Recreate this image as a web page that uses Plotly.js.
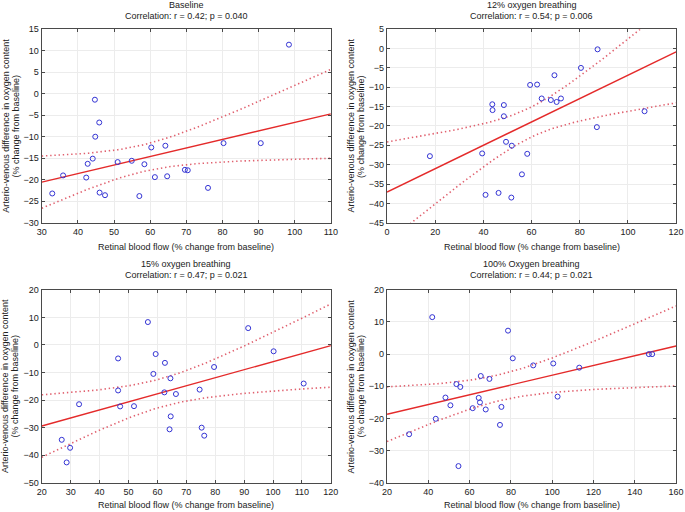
<!DOCTYPE html>
<html>
<head>
<meta charset="utf-8">
<script src="https://cdn.plot.ly/plotly-3.0.1.min.js"></script>
<style>
  html, body { margin: 0; padding: 0; background: #fff; }
  #chart { width: 685px; height: 512px; }
</style>
</head>
<body>
<div id="chart"></div>
<script>
// values (% change from baseline)
const baselineFlow = [32.9, 35.9, 42.3, 42.7, 44.1, 44.7, 44.8, 45.9, 46.0, 47.5, 51.0, 54.9,
  57.0, 58.4, 60.3, 61.3, 64.2, 64.7, 69.6, 70.4, 76.0, 80.3, 90.6, 98.4];
const baselineAvdo = [-23.2, -19.0, -19.5, -16.3, -15.1, -1.4, -10.0, -6.7, -23.0, -23.6, -15.9, -15.6,
  -23.8, -16.4, -12.5, -19.4, -12.1, -19.2, -17.7, -17.8, -21.9, -11.5, -11.5, 11.4];

const o2_12Flow = [17.8, 39.5, 40.9, 43.7, 43.8, 46.3, 48.5, 48.5, 49.4, 51.6, 51.8, 56.0,
  58.2, 59.4, 62.3, 64.2, 68.0, 69.5, 70.4, 72.2, 80.5, 87.4, 87.1, 106.9];
const o2_12Avdo = [-27.8, -27.1, -37.8, -14.4, -15.9, -37.3, -14.6, -17.5, -24.1, -38.5, -25.1, -32.5,
  -27.2, -9.4, -9.3, -12.9, -13.3, -6.9, -13.8, -12.9, -5.0, -0.2, -20.3, -16.2];

const o2_15Flow = [26.9, 28.6, 29.8, 32.9, 46.4, 46.4, 47.1, 51.9, 56.7, 58.6, 59.4, 62.4,
  62.6, 64.5, 64.6, 64.2, 66.4, 74.6, 75.3, 76.2, 79.6, 91.4, 100.2, 110.6];
const o2_15Avdo = [-34.4, -42.6, -37.3, -21.5, -4.9, -16.5, -22.3, -22.2, 8.3, -10.5, -3.3, -17.2,
  -6.5, -12.1, -25.9, -30.6, -17.8, -16.2, -30.0, -32.9, -8.0, 6.1, -2.3, -14.0];

const o2_100Flow = [30.7, 41.9, 43.6, 48.3, 50.7, 53.6, 54.6, 55.5, 61.5, 64.4, 65.0, 65.4,
  67.8, 69.6, 74.7, 75.4, 78.6, 80.9, 90.8, 100.5, 102.6, 113.1, 146.8, 148.4];
const o2_100Avdo = [-24.9, 11.5, -20.1, -13.5, -15.9, -9.3, -34.8, -10.2, -16.8, -13.6, -15.0, -6.8,
  -17.2, -7.7, -22.0, -16.4, 7.3, -1.3, -3.5, -2.9, -13.2, -4.2, 0.0, 0.0];

const panelTitles = ['Baseline', '12% oxygen breathing', '15% oxygen breathing', '100% Oxygen breathing'];
const corrLabels = ['Correlation: r = 0.42; p = 0.040', 'Correlation: r = 0.54; p = 0.006',
  'Correlation: r = 0.47; p = 0.021', 'Correlation: r = 0.44; p = 0.021'];
const xRanges = [[30, 110], [0, 120], [20, 120], [20, 160]];
const yRanges = [[-30, 15], [-45, 5], [-50, 20], [-40, 20]];
const xSteps = [10, 20, 10, 20];
const ySteps = [5, 5, 10, 10];

const xTitle = 'Retinal blood flow (% change from baseline)';
const yTitleLines = ['Arterio-venous difference in oxygen content', '(% change from baseline)'];

// t(0.975) for small df
const tCrit = {20: 2.086, 21: 2.080, 22: 2.074, 23: 2.069, 24: 2.064, 25: 2.060, 26: 2.056, 27: 2.052, 28: 2.048};

const panels = [
  [baselineFlow, baselineAvdo],
  [o2_12Flow, o2_12Avdo],
  [o2_15Flow, o2_15Avdo],
  [o2_100Flow, o2_100Avdo]
];

// plot area boxes in paper fractions
const xDomains = [[0.061, 0.483], [0.565, 0.987], [0.061, 0.483], [0.565, 0.987]];
const yDomains = [[0.565, 0.943], [0.565, 0.943], [0.057, 0.434], [0.057, 0.434]];
// pixel positions of the label lines
const titleY = [[4.7, 15.5], [4.7, 15.5], [263.5, 275.3], [263.5, 275.3]];
const xTitleY = [246.7, 246.7, 505.3, 505.3];
const yTitleX = [[5.8, 15.5], [350.5, 361], [5.7, 15.2], [351.3, 361.3]];

function fit(xs, ys) {
  const n = xs.length;
  const mx = xs.reduce((a, b) => a + b, 0) / n;
  const my = ys.reduce((a, b) => a + b, 0) / n;
  let sxx = 0, sxy = 0, syy = 0;
  xs.forEach((x, i) => {
    sxx += (x - mx) ** 2;
    sxy += (x - mx) * (ys[i] - my);
    syy += (ys[i] - my) ** 2;
  });
  const b = sxy / sxx;
  const a = my - b * mx;
  const s = Math.sqrt((syy - b * sxy) / (n - 2));
  return { a, b, s, n, mx, sxx, t: tCrit[n - 2] || 2.07 };
}

const traces = [];
const layout = {
  width: 685, height: 512,
  margin: { l: 0, r: 0, t: 0, b: 0 },
  paper_bgcolor: '#fff', plot_bgcolor: '#fff',
  showlegend: false,
  font: { family: 'Liberation Sans, Arial, sans-serif', size: 9, color: '#222' },
  annotations: []
};

const py = p => 1 - p / 512;
const px = p => p / 685;

panels.forEach(([xs, ys], i) => {
  const k = i === 0 ? '' : String(i + 1);
  const xa = 'x' + k, ya = 'y' + k;
  const f = fit(xs, ys);
  const [x0, x1] = xRanges[i];

  const gx = [], gy = [], up = [], lo = [];
  for (let j = 0; j <= 80; j++) {
    const x = x0 + (x1 - x0) * j / 80;
    const yhat = f.a + f.b * x;
    const half = f.t * f.s * Math.sqrt(1 / f.n + (x - f.mx) ** 2 / f.sxx);
    gx.push(x); gy.push(yhat); up.push(yhat + half); lo.push(yhat - half);
  }

  const band = { color: '#e0606e', width: 1.6, dash: '1.4px,2.8px' };
  traces.push({ x: gx, y: up, xaxis: xa, yaxis: ya, mode: 'lines', type: 'scatter', line: band, hoverinfo: 'skip' });
  traces.push({ x: gx, y: lo, xaxis: xa, yaxis: ya, mode: 'lines', type: 'scatter', line: band, hoverinfo: 'skip' });
  traces.push({ x: gx, y: gy, xaxis: xa, yaxis: ya, mode: 'lines', type: 'scatter',
    line: { color: '#e42a2a', width: 1.4 }, hoverinfo: 'skip' });
  traces.push({ x: xs, y: ys, xaxis: xa, yaxis: ya, mode: 'markers', type: 'scatter', cliponaxis: false,
    marker: { symbol: 'circle-open', size: 5, color: '#3434d4', line: { width: 1 } } });

  const axCommon = {
    showline: true, linecolor: '#4a4a4a', linewidth: 1.2, mirror: 'ticks',
    ticks: 'inside', ticklen: 3, tickcolor: '#4a4a4a', tickwidth: 1,
    showgrid: true, gridcolor: '#ececec', gridwidth: 1,
    zeroline: false, ticklabeloverflow: 'allow', tickfont: { size: 9, color: '#222' }
  };
  layout['xaxis' + k] = Object.assign({}, axCommon, {
    domain: xDomains[i], anchor: ya, range: xRanges[i], dtick: xSteps[i], tick0: 0
  });
  layout['yaxis' + k] = Object.assign({}, axCommon, {
    domain: yDomains[i], anchor: xa, range: yRanges[i], dtick: ySteps[i], tick0: 0
  });

  const cx = (xDomains[i][0] + xDomains[i][1]) / 2;
  const cy = (yDomains[i][0] + yDomains[i][1]) / 2;
  const txt = (text, x, y, extra) => Object.assign({
    text, xref: 'paper', yref: 'paper', x, y, showarrow: false,
    xanchor: 'center', yanchor: 'middle', font: { size: 9 }
  }, extra || {});
  layout.annotations.push(
    txt(panelTitles[i], cx, py(titleY[i][0])),
    txt(corrLabels[i], cx, py(titleY[i][1])),
    txt(xTitle, cx, py(xTitleY[i])),
    txt(yTitleLines[0], px(yTitleX[i][0]), cy, { textangle: -90 }),
    txt(yTitleLines[1], px(yTitleX[i][1]), cy, { textangle: -90 })
  );
});

Plotly.newPlot('chart', traces, layout, { displayModeBar: false, staticPlot: true });
</script>
</body>
</html>
